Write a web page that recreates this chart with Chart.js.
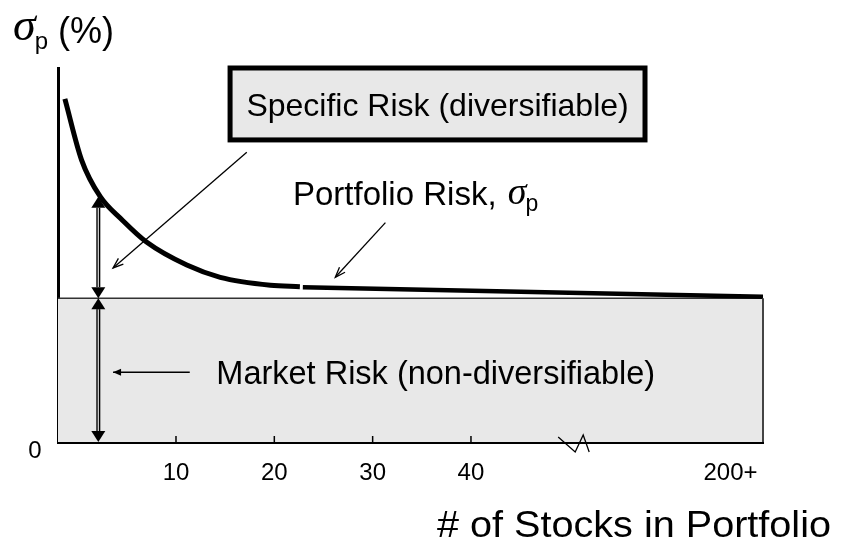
<!DOCTYPE html>
<html>
<head>
<meta charset="utf-8">
<script src="https://cdn.jsdelivr.net/npm/chart.js@4/dist/chart.umd.min.js"></script>
<style>
  html, body { margin: 0; padding: 0; background: #fff; }
  #wrap { width: 841px; height: 545px; }
</style>
</head>
<body>
<div id="wrap"><canvas id="c" width="841" height="545"></canvas></div>
<script>
// Portfolio standard deviation (%) against the number of stocks held
const curveStocks = [-1.3, 0.4, 2.3, 4.5, 7.0, 11.1, 14.5, 19.6, 22.6];
const curveRisk   = [47.7, 39.2, 34.1, 30.9, 27.8, 24.6, 22.9, 21.8, 21.6];
// nearly flat tail that runs past the axis break out to 200+ stocks
const tailStocks  = [22.9, 69.7];
const tailRisk    = [21.5, 20.2];
// systematic (market) risk floor
const marketRisk  = 20;
// x axis ticks; the last one stands for 200+ after the break
const xTicks      = [10, 20, 30, 40, 66.4];
const xTickLabels = ['10', '20', '30', '40', '200+'];
const xRange      = [-2, 69.7];
const yRange      = [0, 52];
const breakAt     = 50.6;
// level used for the specific-risk bracket (where the curve meets it)
const bracketStock = 2.1;
const bracketTop   = 34.1;

const SANS  = '"Liberation Sans", Arial, Helvetica, sans-serif';
const SERIF = '"Liberation Serif", "DejaVu Serif", serif';

function pts(xs, ys) { return xs.map((x, i) => ({ x, y: ys[i] })); }

function lineArrow(ctx, x1, y1, x2, y2, len, ang) {
  ctx.beginPath();
  ctx.moveTo(x1, y1);
  ctx.lineTo(x2, y2);
  ctx.stroke();
  const a = Math.atan2(y2 - y1, x2 - x1);
  ctx.beginPath();
  ctx.moveTo(x2 - len * Math.cos(a - ang), y2 - len * Math.sin(a - ang));
  ctx.lineTo(x2, y2);
  ctx.lineTo(x2 - len * Math.cos(a + ang), y2 - len * Math.sin(a + ang));
  ctx.stroke();
}

function filledArrowLine(ctx, x1, y1, x2, y2, len, half) {
  ctx.beginPath();
  ctx.moveTo(x1, y1);
  ctx.lineTo(x2, y2);
  ctx.stroke();
  const a = Math.atan2(y2 - y1, x2 - x1);
  const bx = x2 - len * Math.cos(a), by = y2 - len * Math.sin(a);
  ctx.beginPath();
  ctx.moveTo(x2, y2);
  ctx.lineTo(bx + half * Math.sin(a), by - half * Math.cos(a));
  ctx.lineTo(bx - half * Math.sin(a), by + half * Math.cos(a));
  ctx.closePath();
  ctx.fill();
}

// vertical bracket with solid heads at both ends
function doubleArrow(ctx, x, yTop, yBot) {
  const len = 11, half = 7;
  ctx.save();
  ctx.strokeStyle = '#000';
  ctx.lineWidth = 4;
  ctx.beginPath(); ctx.moveTo(x, yTop + len); ctx.lineTo(x, yBot - len); ctx.stroke();
  ctx.strokeStyle = '#d0d0d0';
  ctx.lineWidth = 1.3;
  ctx.beginPath(); ctx.moveTo(x, yTop + len); ctx.lineTo(x, yBot - len); ctx.stroke();
  ctx.fillStyle = '#000';
  ctx.beginPath(); ctx.moveTo(x, yTop); ctx.lineTo(x - half, yTop + len); ctx.lineTo(x + half, yTop + len); ctx.closePath(); ctx.fill();
  ctx.beginPath(); ctx.moveTo(x, yBot); ctx.lineTo(x - half, yBot - len); ctx.lineTo(x + half, yBot - len); ctx.closePath(); ctx.fill();
  ctx.restore();
}

// sigma with subscript p
function sigmaP(ctx, x, base, size, subSize) {
  ctx.font = 'italic ' + size + 'px ' + SERIF;
  ctx.fillText('\u03C3', x, base);
  const w = ctx.measureText('\u03C3').width;
  ctx.font = subSize + 'px ' + SANS;
  ctx.fillText('p', x + w - 1, base + size * 0.2);
  return x + w - 1 + ctx.measureText('p').width;
}

const annotations = {
  id: 'annotations',
  afterDatasetsDraw(chart) {
    const { ctx, scales: { x, y }, chartArea } = chart;
    const X = v => x.getPixelForValue(v);
    const Y = v => y.getPixelForValue(v);
    ctx.save();

    // right edge of the market-risk band
    ctx.strokeStyle = '#444';
    ctx.lineWidth = 2;
    ctx.beginPath();
    ctx.moveTo(X(xRange[1]), Y(marketRisk));
    ctx.lineTo(X(xRange[1]), Y(0));
    ctx.stroke();

    // brackets for specific and market risk
    doubleArrow(ctx, X(bracketStock), Y(bracketTop), Y(marketRisk));
    doubleArrow(ctx, X(bracketStock), Y(marketRisk), Y(0));

    // inward tick marks on the x axis
    ctx.strokeStyle = '#000';
    ctx.lineWidth = 1.5;
    xTicks.slice(0, 4).forEach(v => {
      ctx.beginPath();
      ctx.moveTo(X(v), chartArea.bottom);
      ctx.lineTo(X(v), chartArea.bottom - 6);
      ctx.stroke();
    });

    // axis break
    const bx = X(breakAt), by = chartArea.bottom;
    ctx.lineWidth = 1.3;
    ctx.beginPath();
    ctx.moveTo(bx - 17, by - 5);
    ctx.lineTo(bx, by + 10);
    ctx.lineTo(bx + 8, by - 7);
    ctx.lineTo(bx + 14, by + 10);
    ctx.stroke();

    // specific risk box
    const bl = X(15.5), br = X(57.7), bt = Y(52), bb = Y(42.0);
    ctx.fillStyle = '#e8e8e8';
    ctx.fillRect(bl, bt, br - bl, bb - bt);
    ctx.strokeStyle = '#000';
    ctx.lineWidth = 5;
    ctx.strokeRect(bl, bt, br - bl, bb - bt);
    ctx.fillStyle = '#000';
    ctx.font = '32px ' + SANS;
    ctx.textAlign = 'center';
    ctx.textBaseline = 'alphabetic';
    ctx.fillText('Specific Risk (diversifiable)', (bl + br) / 2, Y(42.0) - 24);
    ctx.textAlign = 'left';

    // pointer arrows
    ctx.strokeStyle = '#000';
    ctx.lineWidth = 1.3;
    lineArrow(ctx, X(17.2), Y(40.3), X(3.6), Y(24.2), 11, 0.35);
    lineArrow(ctx, X(31.3), Y(30.5), X(26.2), Y(22.9), 11, 0.35);
    ctx.fillStyle = '#000';
    filledArrowLine(ctx, X(11.4), Y(9.7), X(3.6), Y(9.7), 8, 3.5);

    // portfolio risk label
    ctx.font = '33px ' + SANS;
    const pl = X(21.9), pb = Y(33.0);
    ctx.fillText('Portfolio Risk,', pl, pb);
    const pw = ctx.measureText('Portfolio Risk, ').width;
    sigmaP(ctx, pl + pw + 2, pb - 1, 38, 23);

    // market risk label
    ctx.font = '32.5px ' + SANS;
    ctx.fillText('Market Risk (non-diversifiable)', X(14.1), Y(8.1));

    // y axis zero label
    ctx.font = '24px ' + SANS;
    ctx.textAlign = 'center';
    ctx.textBaseline = 'middle';
    ctx.fillText('0', 35, Y(0) + 9);

    // y axis title
    ctx.textAlign = 'left';
    ctx.textBaseline = 'alphabetic';
    const e = sigmaP(ctx, 13, 40, 46, 24);
    ctx.font = '36px ' + SANS;
    ctx.fillText('(%)', e + 10, 43);

    // x axis title (set slightly wide)
    ctx.save();
    ctx.translate(437, 537);
    ctx.scale(1.1, 1);
    ctx.font = '36px ' + SANS;
    ctx.fillText('# of Stocks in Portfolio', 0, 0);
    ctx.restore();

    ctx.restore();
  }
};

new Chart(document.getElementById('c'), {
  type: 'line',
  data: {
    datasets: [
      {
        label: 'Portfolio risk',
        data: pts(curveStocks, curveRisk),
        borderColor: '#000',
        borderWidth: 5,
        pointRadius: 0,
        cubicInterpolationMode: 'monotone',
        fill: false
      },
      {
        label: 'Portfolio risk (tail)',
        data: pts(tailStocks, tailRisk),
        borderColor: '#000',
        borderWidth: 4.5,
        pointRadius: 0,
        fill: false
      },
      {
        label: 'Market risk',
        data: pts(xRange, [marketRisk, marketRisk]),
        borderColor: '#333',
        borderWidth: 1.5,
        backgroundColor: '#e8e8e8',
        pointRadius: 0,
        fill: 'origin'
      }
    ]
  },
  options: {
    responsive: false,
    animation: false,
    events: [],
    layout: { padding: { left: 58, top: 68, right: 78, bottom: 0 } },
    plugins: { legend: { display: false }, tooltip: { enabled: false } },
    scales: {
      x: {
        type: 'linear',
        min: xRange[0],
        max: xRange[1],
        grid: { display: false, drawTicks: false },
        border: { display: true, color: '#000', width: 3 },
        afterBuildTicks: s => { s.ticks = xTicks.map(v => ({ value: v })); },
        afterFit: s => { s.height = 103; },
        ticks: {
          autoSkip: false,
          maxRotation: 0,
          padding: 17,
          color: '#000',
          font: { family: SANS, size: 24 },
          callback: v => xTickLabels[xTicks.indexOf(v)]
        }
      },
      y: {
        type: 'linear',
        min: yRange[0],
        max: yRange[1],
        grid: { display: false },
        border: { display: true, color: '#000', width: 3 },
        ticks: { display: false },
        afterFit: s => { s.width = 0; }
      }
    }
  },
  plugins: [annotations]
});
</script>
</body>
</html>
